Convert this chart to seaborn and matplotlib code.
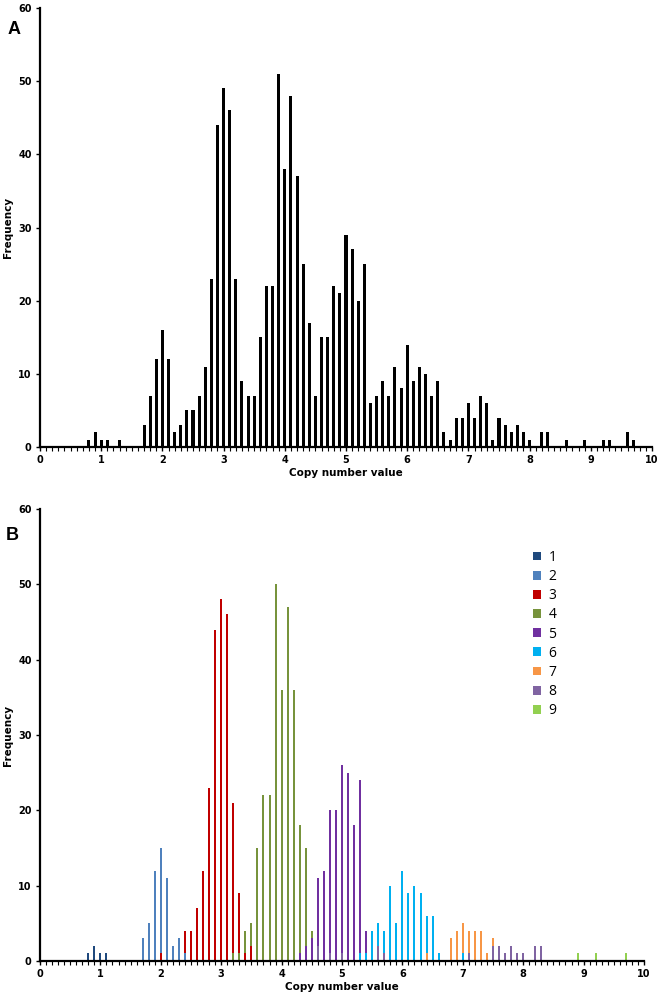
import matplotlib
matplotlib.use("Agg")
import matplotlib.pyplot as plt
from matplotlib.ticker import MultipleLocator
import seaborn as sns
import pandas as pd

# Panel A - all copy number values
x_a = [0.8, 0.9, 1.0, 1.1, 1.3, 1.7, 1.8, 1.9, 2.0, 2.1, 2.2, 2.3, 2.4, 2.5, 2.6,
       2.7, 2.8, 2.9, 3.0, 3.1, 3.2, 3.3, 3.4, 3.5, 3.6, 3.7, 3.8, 3.9, 4.0, 4.1,
       4.2, 4.3, 4.4, 4.5, 4.6, 4.7, 4.8, 4.9, 5.0, 5.1, 5.2, 5.3, 5.4, 5.5, 5.6,
       5.7, 5.8, 5.9, 6.0, 6.1, 6.2, 6.3, 6.4, 6.5, 6.6, 6.7, 6.8, 6.9, 7.0, 7.1,
       7.2, 7.3, 7.4, 7.5, 7.6, 7.7, 7.8, 7.9, 8.0, 8.2, 8.3, 8.6, 8.9, 9.2, 9.3,
       9.6, 9.7]
freq_a = [1, 2, 1, 1, 1, 3, 7, 12, 16, 12, 2, 3, 5, 5, 7,
          11, 23, 44, 49, 46, 23, 9, 7, 7, 15, 22, 22, 51, 38, 48,
          37, 25, 17, 7, 15, 15, 22, 21, 29, 27, 20, 25, 6, 7, 9,
          7, 11, 8, 14, 9, 11, 10, 7, 9, 2, 1, 4, 4, 6, 4,
          7, 6, 1, 4, 3, 2, 3, 2, 1, 2, 2, 1, 1, 1, 1,
          2, 1]

# Panel B - split by integer copy number class
x_b1 = [0.8, 0.9, 1.0, 1.1]
y_b1 = [1, 2, 1, 1]
x_b2 = [1.7, 1.8, 1.9, 2.0, 2.1, 2.2, 2.3, 2.4]
y_b2 = [3, 5, 12, 15, 11, 2, 3, 1]
x_b3 = [2.0, 2.4, 2.5, 2.6, 2.7, 2.8, 2.9, 3.0, 3.1, 3.2, 3.3, 3.4, 3.5]
y_b3 = [1, 4, 4, 7, 12, 23, 44, 48, 46, 21, 9, 1, 2]
x_b4 = [3.2, 3.3, 3.4, 3.5, 3.6, 3.7, 3.8, 3.9, 4.0, 4.1, 4.2, 4.3, 4.4, 4.5]
y_b4 = [1, 1, 4, 5, 15, 22, 22, 50, 36, 47, 36, 18, 15, 4]
x_b5 = [4.3, 4.4, 4.5, 4.6, 4.7, 4.8, 4.9, 5.0, 5.1, 5.2, 5.3, 5.4]
y_b5 = [1, 2, 3, 11, 12, 20, 20, 26, 25, 18, 24, 4]
x_b6 = [5.3, 5.4, 5.5, 5.6, 5.7, 5.8, 5.9, 6.0, 6.1, 6.2, 6.3, 6.4, 6.5, 6.6, 7.0]
y_b6 = [1, 1, 4, 5, 4, 10, 5, 12, 9, 10, 9, 6, 6, 1, 1]
x_b7 = [6.4, 6.8, 6.9, 7.0, 7.1, 7.2, 7.3, 7.4, 7.5]
y_b7 = [1, 3, 4, 5, 4, 4, 4, 1, 3]
x_b8 = [4.6, 4.8, 5.0, 5.6, 5.7, 7.1, 7.5, 7.6, 7.7, 7.8, 7.9, 8.0, 8.2, 8.3]
y_b8 = [2, 1, 1, 2, 1, 1, 2, 2, 1, 2, 1, 1, 2, 2]
x_b9 = [8.9, 9.2, 9.7]
y_b9 = [1, 1, 1]

series_x = [x_b1, x_b2, x_b3, x_b4, x_b5, x_b6, x_b7, x_b8, x_b9]
series_y = [y_b1, y_b2, y_b3, y_b4, y_b5, y_b6, y_b7, y_b8, y_b9]
classes = ["1", "2", "3", "4", "5", "6", "7", "8", "9"]
colors = ["#1F497D", "#4F81BD", "#C00000", "#77933C", "#7030A0",
          "#00B0F0", "#F79646", "#8064A2", "#92D050"]

rows = []
for lab, xs, ys in zip(classes, series_x, series_y):
    for xv, yv in zip(xs, ys):
        rows.append({"x": xv, "count": yv, "series": lab})
df_b = pd.DataFrame(rows)

W, H = 657, 994
fig = plt.figure(figsize=(W / 100, H / 100), dpi=100)
ax_a = fig.add_axes([40 / W, 1 - 447 / H, 612 / W, 439 / H])
ax_b = fig.add_axes([40 / W, 1 - 961 / H, 604 / W, 452 / H])

# widths picked so bars come out as whole pixels (3 px in A, 2 px in B)
sns.barplot(x=x_a, y=freq_a, native_scale=True, color="black", width=0.4903,
            errorbar=None, ax=ax_a, saturation=1, linewidth=0)

sns.barplot(data=df_b, x="x", y="count", hue="series", hue_order=classes,
            palette=colors, dodge=False, native_scale=True, width=0.331,
            errorbar=None, ax=ax_b, saturation=1, linewidth=0)

# shorter bars drawn in front so the small ones show at the base
for p in ax_b.patches:
    p.set_zorder(2 - p.get_height() / 100)
    p.set_snap(True)
for p in ax_a.patches:
    p.set_snap(True)

for ax in (ax_a, ax_b):
    ax.set_xlim(0, 10)
    ax.set_ylim(0, 60)
    ax.xaxis.set_minor_locator(MultipleLocator(0.1))
    ax.yaxis.set_major_locator(MultipleLocator(10))
    ax.set_xticks(range(11))
    ax.set_xticklabels([str(i) for i in range(11)])
    sns.despine(ax=ax)
    for s in ("left", "bottom"):
        ax.spines[s].set_linewidth(1.6)
    ax.tick_params(axis="both", which="major", length=3, width=1, labelsize=7, pad=3)
    ax.tick_params(axis="x", which="minor", length=3, width=0.8)
    for t in ax.get_xticklabels() + ax.get_yticklabels():
        t.set_fontweight("bold")
    ax.set_ylabel("Frequency", fontsize=7.5, fontweight="bold", labelpad=4)
    ax.set_xlabel("Copy number value", fontsize=7.5, fontweight="bold", labelpad=2)

handles, labels = ax_b.get_legend_handles_labels()
ax_b.legend(handles, labels, loc="upper left", bbox_to_anchor=(0.805, 0.925),
            frameon=False, handlelength=0.6, handleheight=0.6,
            handletextpad=0.5, labelspacing=0.3, borderpad=0,
            prop={"family": "Open Sans", "size": 10})

fig.text(14 / W, 1 - 30 / H, "A", fontsize=13, fontweight="bold",
         family="Liberation Sans", ha="center", va="center")
fig.text(12 / W, 1 - 536 / H, "B", fontsize=13, fontweight="bold",
         family="Liberation Sans", ha="center", va="center")

fig.savefig("out.png", dpi=100)
